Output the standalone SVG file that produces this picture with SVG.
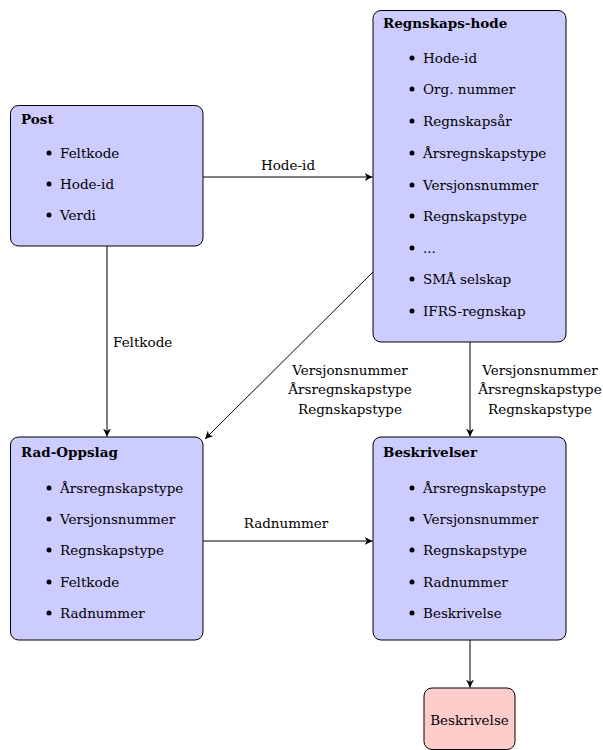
<svg xmlns="http://www.w3.org/2000/svg" width="603" height="750" viewBox="0 0 603 750">
<defs>
<style>
text{font-family:'DejaVu Serif','Liberation Serif',serif;font-size:13.5px;fill:#000}
.t{font-weight:bold}
.box{fill:#ccccff;stroke:#000;stroke-width:1}
.red{fill:#ffcccc;stroke:#000;stroke-width:1}
.c{stroke:#000;stroke-width:1;fill:none;marker-end:url(#ah)}
.m{text-anchor:middle}
</style>
<marker id="ah" viewBox="0 0 10 10" refX="10" refY="5" markerWidth="8" markerHeight="8" markerUnits="userSpaceOnUse" orient="auto">
<path d="M0,0 L10,5 L0,10 L3,5 Z" fill="#000"/>
</marker>
</defs>
<g id="connectors">
<line class="c" x1="203" y1="177" x2="372.5" y2="177"/>
<line class="c" x1="107" y1="246" x2="107" y2="436.5"/>
<line class="c" x1="373" y1="272" x2="205" y2="439"/>
<line class="c" x1="470" y1="342" x2="470" y2="436.5"/>
<line class="c" x1="203" y1="541" x2="372.5" y2="541"/>
<line class="c" x1="470" y1="640" x2="470" y2="687.5"/>
<text class="m" x="288" y="170">Hode-id</text>
<text x="113" y="347">Feltkode</text>
<text class="m" x="286" y="528">Radnummer</text>
<text class="m" x="350" y="375">Versjonsnummer</text>
<text class="m" x="350" y="394">Årsregnskapstype</text>
<text class="m" x="350" y="414">Regnskapstype</text>
<text class="m" x="540" y="375">Versjonsnummer</text>
<text class="m" x="540" y="394">Årsregnskapstype</text>
<text class="m" x="540" y="414">Regnskapstype</text>
</g>
<g id="post">
<rect class="box" x="10.5" y="105.5" width="192.5" height="140.5" rx="8"/>
<text class="t" x="21" y="124">Post</text>
<circle cx="49" cy="153" r="2.5"/><text x="60" y="158">Feltkode</text>
<circle cx="49" cy="184" r="2.5"/><text x="60" y="189">Hode-id</text>
<circle cx="49" cy="215" r="2.5"/><text x="60" y="220">Verdi</text>
</g>
<g id="regnskaps-hode">
<rect class="box" x="373" y="10.5" width="193" height="331.5" rx="8"/>
<text class="t" x="383" y="28">Regnskaps-hode</text>
<circle cx="412" cy="58" r="2.5"/><text x="423" y="63">Hode-id</text>
<circle cx="412" cy="89" r="2.5"/><text x="423" y="94">Org. nummer</text>
<circle cx="412" cy="121" r="2.5"/><text x="423" y="126">Regnskapsår</text>
<circle cx="412" cy="153" r="2.5"/><text x="423" y="158">Årsregnskapstype</text>
<circle cx="412" cy="185" r="2.5"/><text x="423" y="190">Versjonsnummer</text>
<circle cx="412" cy="216" r="2.5"/><text x="423" y="221">Regnskapstype</text>
<circle cx="412" cy="248" r="2.5"/><text x="423" y="253">...</text>
<circle cx="412" cy="279" r="2.5"/><text x="423" y="284">SMÅ selskap</text>
<circle cx="412" cy="311" r="2.5"/><text x="423" y="316">IFRS-regnskap</text>
</g>
<g id="rad-oppslag">
<rect class="box" x="10.5" y="437" width="192.5" height="203" rx="8"/>
<text class="t" x="21" y="457">Rad-Oppslag</text>
<circle cx="49" cy="488" r="2.5"/><text x="60" y="493">Årsregnskapstype</text>
<circle cx="49" cy="519" r="2.5"/><text x="60" y="524">Versjonsnummer</text>
<circle cx="49" cy="550" r="2.5"/><text x="60" y="555">Regnskapstype</text>
<circle cx="49" cy="582" r="2.5"/><text x="60" y="587">Feltkode</text>
<circle cx="49" cy="613" r="2.5"/><text x="60" y="618">Radnummer</text>
</g>
<g id="beskrivelser">
<rect class="box" x="373" y="437" width="193" height="203" rx="8"/>
<text class="t" x="383" y="457">Beskrivelser</text>
<circle cx="412" cy="488" r="2.5"/><text x="423" y="493">Årsregnskapstype</text>
<circle cx="412" cy="519" r="2.5"/><text x="423" y="524">Versjonsnummer</text>
<circle cx="412" cy="550" r="2.5"/><text x="423" y="555">Regnskapstype</text>
<circle cx="412" cy="582" r="2.5"/><text x="423" y="587">Radnummer</text>
<circle cx="412" cy="613" r="2.5"/><text x="423" y="618">Beskrivelse</text>
</g>
<g id="beskrivelse">
<rect class="red" x="424" y="688" width="91" height="61.5" rx="8"/>
<text class="m" x="469.5" y="725">Beskrivelse</text>
</g>
</svg>
